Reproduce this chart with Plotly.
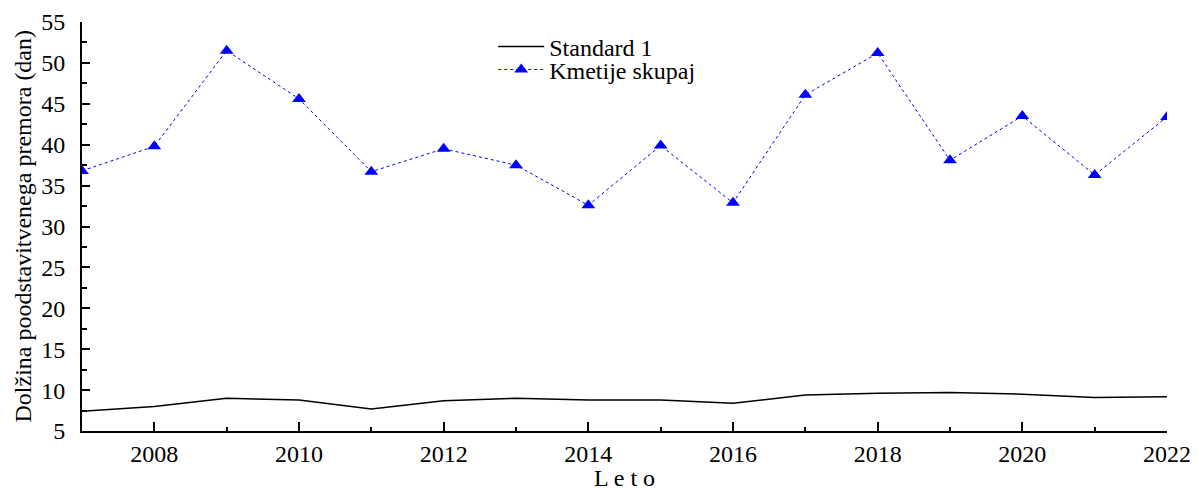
import plotly.graph_objects as go

years = list(range(2007, 2023))
standard_1 = [7.4, 8.0, 9.0, 8.8, 7.7, 8.7, 9.0, 8.8, 8.8, 8.4, 9.4, 9.6, 9.7, 9.5, 9.1, 9.2]
kmetije_skupaj = [36.8, 39.8, 51.5, 45.6, 36.7, 39.5, 37.5, 32.6, 39.9, 32.9, 46.1, 51.2, 38.1, 43.5, 36.3, 43.4]

FONT = "Liberation Serif"
FS = 24

fig = go.Figure()
fig.add_trace(go.Scatter(
    x=years, y=standard_1, mode="lines", name="Standard 1",
    line=dict(color="black", width=1.5), legend="legend",
))
fig.add_trace(go.Scatter(
    x=years, y=kmetije_skupaj, mode="lines+markers", name="Kmetije skupaj",
    line=dict(color="blue", width=1, dash="3px,3px"),
    marker=dict(symbol="triangle-up", size=12, color="blue"),
    legend="legend2",
))

leg_common = dict(x=0.379, xanchor="left", yanchor="middle",
                  bgcolor="rgba(0,0,0,0)", font=dict(size=FS, family=FONT, color="black"),
                  itemwidth=46, borderwidth=0)

# page body has an 8px margin, so the figure is shifted by 8px right and down
fig.update_layout(
    width=1190, height=482,
    margin=dict(l=74, r=31, t=14, b=59),
    paper_bgcolor="white", plot_bgcolor="white",
    font=dict(family=FONT, size=FS, color="black"),
    legend=dict(y=0.939, **leg_common),
    legend2=dict(y=0.883, **leg_common),
    showlegend=True,
    annotations=[
        dict(text="L e t o", xref="paper", yref="paper", x=0.5, y=0,
             xanchor="center", yanchor="middle", yshift=-47, showarrow=False,
             font=dict(size=FS, family=FONT, color="black")),
        dict(text="Dolžina poodstavitvenega premora (dan)", xref="paper", yref="paper",
             x=0, y=0.5, xanchor="center", yanchor="middle", xshift=-60, textangle=-90,
             showarrow=False, font=dict(size=FS, family=FONT, color="black")),
    ],
)
fig.update_xaxes(
    range=[2007, 2022], tick0=2008, dtick=2, automargin=False,
    ticks="inside", ticklen=9, tickwidth=1.5, tickcolor="black",
    showline=True, linecolor="black", linewidth=2, mirror=False,
    showgrid=False, zeroline=False,
    minor=dict(dtick=1, tick0=2007, ticks="inside", ticklen=4, tickwidth=1.5, tickcolor="black", showgrid=False),
    tickfont=dict(size=FS, family=FONT, color="black"),
)
fig.update_yaxes(
    range=[5, 55], tick0=5, dtick=5, automargin=False,
    ticks="inside", ticklen=8, tickwidth=1.5, tickcolor="black",
    showline=True, linecolor="black", linewidth=2, mirror=False,
    showgrid=False, zeroline=False, ticklabelstandoff=10,
    minor=dict(dtick=2.5, ticks="inside", ticklen=5, tickwidth=1.5, tickcolor="black", showgrid=False),
    tickfont=dict(size=FS, family=FONT, color="black"),
)

fig.write_html("out.html")
